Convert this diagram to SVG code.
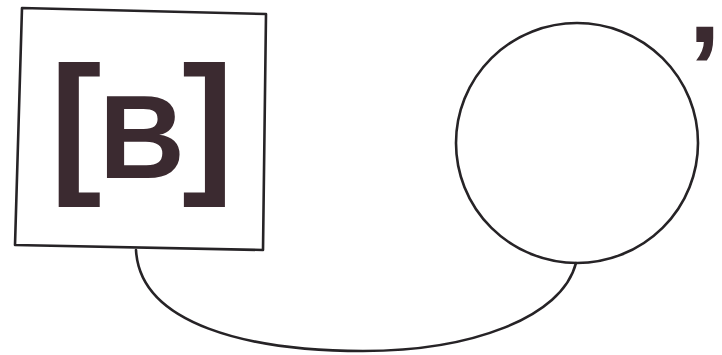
<svg xmlns="http://www.w3.org/2000/svg" width="722" height="355" viewBox="0 0 722 355">
<style>
.ln{fill:none;stroke:#262326;stroke-width:2.6;stroke-linejoin:round;stroke-linecap:round}
.tx{font-family:"Liberation Sans",Arial,sans-serif;font-weight:bold;fill:#3b2a30}
</style>
<rect width="722" height="355" fill="#ffffff"/>
<g id="connectors">
<path class="ln" d="M136,250 C140,325 250,351 363,351 C470,351 562,318 576,263"/>
</g>
<g id="node-box">
<polygon class="ln" fill="#ffffff" points="22,8 266,14 263,250 15,245"/>
<text class="tx" x="50" y="175" font-size="155">[</text>
<text class="tx" x="99" y="178" font-size="119">B</text>
<text class="tx" x="182" y="175" font-size="155">]</text>
</g>
<g id="node-circle">
<ellipse class="ln" cx="577" cy="143" rx="121" ry="120"/>
<text class="tx" x="688" y="110" font-size="120">’</text>
</g>
</svg>
